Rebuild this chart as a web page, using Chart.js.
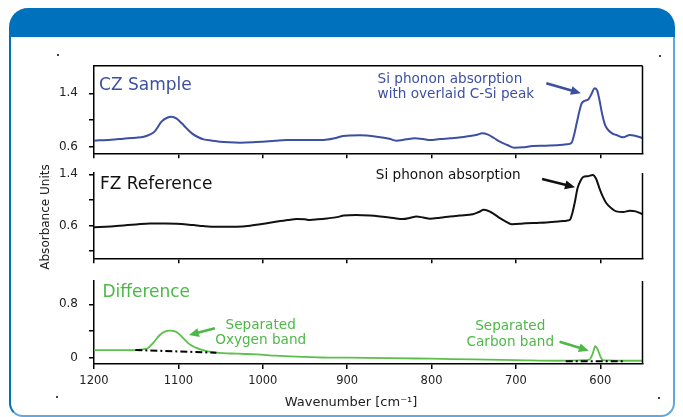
<!DOCTYPE html>
<html>
<head>
<meta charset="utf-8">
<script src="https://cdn.jsdelivr.net/npm/chart.js@4.4.0/dist/chart.umd.min.js"></script>
<style>
  body { margin: 0; width: 683px; height: 417px; overflow: hidden; background: #fff; position: relative;
         font-family: 'DejaVu Sans', Verdana, sans-serif; }
  .box { position: absolute; left: 9px; top: 30px; width: 662px; height: 385px;
         border-left: 2px solid #0071bc; border-right: 2px solid #62a8de; border-bottom: 2px solid #62a8de;
         border-radius: 0 0 14px 14px; }
  .header { position: absolute; left: 9px; top: 8px; width: 666px; height: 29px; background: #0071bc;
            border-radius: 19px 19px 0 0; }
  .dot { position: absolute; width: 2px; height: 2px; background: #444; }
  canvas { position: absolute; left: 0; }
  .ytitle { position: absolute; left: -35px; top: 209px; width: 160px; line-height: 16px; text-align: center;
            font-size: 12px; color: #222; transform: rotate(-90deg); }
  .xtitle { position: absolute; left: 251px; top: 394px; width: 200px; line-height: 16px; text-align: center;
            font-size: 13px; color: #222; }
</style>
</head>
<body>
<div class="box"></div>
<div class="header"></div>
<div class="dot" style="left:57px;top:54px"></div>
<div class="dot" style="left:659px;top:55px"></div>
<div class="dot" style="left:56px;top:396px"></div>
<div class="dot" style="left:658px;top:397px"></div>
<canvas id="czChart" width="683" height="125" style="top:40px"></canvas>
<canvas id="fzChart" width="683" height="100" style="top:165px"></canvas>
<canvas id="diffChart" width="683" height="152" style="top:265px"></canvas>
<div class="ytitle">Absorbance Units</div>
<div class="xtitle">Wavenumber [cm⁻¹]</div>
<script>
// ===== DATA ===== //
const wnTicks = [600, 700, 800, 900, 1000, 1100, 1200];

// CZ sample spectrum
const czWn  = [1200, 1180, 1165, 1150, 1141, 1134, 1128, 1120, 1114, 1108, 1102, 1096, 1090, 1084, 1077, 1070,
               1060, 1051, 1040, 1027, 1012, 1000, 985, 972, 950, 928, 915, 905, 885, 865, 850, 842, 830, 820,
               810, 802, 790, 778, 765, 755, 746, 740, 733, 726, 719, 710, 702, 692, 680, 665, 648, 640, 634,
               631, 628, 625, 622, 618, 614, 610, 607, 604, 601, 598, 595, 592, 586, 581, 573, 565, 558, 550];
const czAbs = [0.69, 0.705, 0.72, 0.735, 0.75, 0.78, 0.83, 0.975, 1.03, 1.05, 1.02, 0.95, 0.87, 0.80, 0.745, 0.71,
               0.69, 0.675, 0.665, 0.66, 0.665, 0.675, 0.69, 0.70, 0.70, 0.70, 0.725, 0.76, 0.77, 0.75, 0.72, 0.69, 0.71, 0.725,
               0.715, 0.70, 0.715, 0.725, 0.74, 0.76, 0.78, 0.80, 0.78, 0.73, 0.675, 0.625, 0.585, 0.59, 0.61, 0.615, 0.625, 0.635, 0.66,
               0.78, 0.95, 1.12, 1.25, 1.29, 1.31, 1.40, 1.475, 1.45, 1.30, 1.10, 0.95, 0.87, 0.80, 0.775, 0.74, 0.775, 0.76, 0.73];
const czYTicks  = [0.6, 1.0, 1.4];
const czYLabels = ['0.6', '', '1.4'];

// FZ reference spectrum
const fzWn  = [1200, 1180, 1165, 1150, 1134, 1115, 1102, 1090, 1082, 1070, 1055, 1031, 1015, 1003, 990, 983,
               970, 960, 950, 944, 935, 924, 912, 904, 889, 873, 861, 845, 834, 825, 818, 810, 802, 790,
               778, 767, 751, 744, 738, 730, 719, 712, 705, 695, 688, 675, 664, 650, 640, 636, 633, 630,
               627, 623, 620, 615, 609, 605, 601, 597, 593, 587, 581, 573, 565, 558, 550];
const fzAbs = [0.57, 0.585, 0.60, 0.615, 0.63, 0.63, 0.625, 0.615, 0.605, 0.59, 0.58, 0.58, 0.595, 0.62, 0.645, 0.66,
               0.685, 0.70, 0.695, 0.685, 0.695, 0.71, 0.73, 0.755, 0.765, 0.755, 0.74, 0.715, 0.70, 0.72, 0.74, 0.725, 0.705, 0.72,
               0.74, 0.755, 0.775, 0.81, 0.845, 0.81, 0.715, 0.66, 0.62, 0.625, 0.635, 0.64, 0.645, 0.66, 0.675, 0.69, 0.80, 0.975,
               1.18, 1.31, 1.36, 1.37, 1.39, 1.33, 1.18, 1.05, 0.95, 0.87, 0.82, 0.81, 0.83, 0.82, 0.775];
const fzYTicks  = [0.2, 0.6, 1.0, 1.4];
const fzYLabels = ['', '0.6', '', '1.4'];

// Difference spectrum
const diffWn  = [1200, 1175, 1153, 1142, 1136, 1130, 1122, 1116, 1110, 1104, 1100, 1094, 1088, 1081, 1074, 1065,
                 1055, 1030, 1007, 985, 960, 935, 917, 900, 850, 800, 750, 700, 650, 625, 617, 613, 609, 606,
                 603, 600, 597, 590, 570, 550];
const diffAbs = [0.115, 0.115, 0.115, 0.125, 0.145, 0.22, 0.34, 0.39, 0.405, 0.395, 0.365, 0.29, 0.215, 0.16, 0.125, 0.095,
                 0.075, 0.06, 0.05, 0.03, 0.015, 0.005, 0.0, 0.0, -0.005, -0.015, -0.025, -0.035, -0.045, -0.04, -0.035, -0.03, 0.06, 0.175,
                 0.12, 0.02, -0.035, -0.04, -0.045, -0.045];
const oxyBaseWn  = [1151, 1055];
const oxyBaseAbs = [0.115, 0.075];
const carbBaseWn  = [641, 571];
const carbBaseAbs = [-0.052, -0.052];
const diffYTicks  = [0, 0.4, 0.8];
const diffYLabels = ['0', '', '0.8'];

// ===== COLORS / FONTS ===== //
const BLUE = '#3c4fa3';
const GREEN = '#4db848';
const GREEN_LINE = '#5cbf4a';
const BIG = '17px "DejaVu Sans"';
const SMALL = '13.6px "DejaVu Sans"';

const toPts = (xs, ys) => xs.map((x, i) => ({ x: x, y: ys[i] }));

// ===== PLUGINS ===== //
const framePlugin = {
    id: 'frame',
    afterDraw(chart, args, opts) {
        const { ctx, chartArea: a } = chart;
        ctx.save();
        ctx.strokeStyle = '#000';
        ctx.lineWidth = 1.5;
        ctx.beginPath();
        ctx.moveTo(a.right, a.top);
        ctx.lineTo(a.right, a.bottom);
        if (opts.top) {
            ctx.moveTo(a.left, a.top);
            ctx.lineTo(a.right, a.top);
        }
        ctx.stroke();
        ctx.restore();
    }
};

function makeNotes(texts, arrows) {
    return {
        id: 'notes',
        afterDatasetsDraw(chart) {
            const { ctx } = chart;
            const sx = chart.scales.x, sy = chart.scales.y;
            ctx.save();
            texts.forEach(t => {
                ctx.font = t.font;
                ctx.fillStyle = t.color;
                ctx.textAlign = t.align || 'left';
                ctx.textBaseline = 'middle';
                ctx.fillText(t.text, sx.getPixelForValue(t.wn), sy.getPixelForValue(t.v));
            });
            arrows.forEach(ar => {
                const x0 = sx.getPixelForValue(ar.from[0]), y0 = sy.getPixelForValue(ar.from[1]);
                const x1 = sx.getPixelForValue(ar.to[0]), y1 = sy.getPixelForValue(ar.to[1]);
                const ang = Math.atan2(y1 - y0, x1 - x0);
                const c = Math.cos(ang), s = Math.sin(ang);
                const head = 10, half = 4.5;
                ctx.strokeStyle = ar.color;
                ctx.fillStyle = ar.color;
                ctx.lineWidth = 2.6;
                ctx.beginPath();
                ctx.moveTo(x0, y0);
                ctx.lineTo(x1 - head * 0.8 * c, y1 - head * 0.8 * s);
                ctx.stroke();
                ctx.beginPath();
                ctx.moveTo(x1, y1);
                ctx.lineTo(x1 - head * c + half * s, y1 - head * s - half * c);
                ctx.lineTo(x1 - head * c - half * s, y1 - head * s + half * c);
                ctx.closePath();
                ctx.fill();
            });
            ctx.restore();
        }
    };
}

// ===== CHARTS ===== //
function makePanel(id, cfg) {
    return new Chart(document.getElementById(id), {
        type: 'line',
        data: { datasets: cfg.datasets },
        options: {
            responsive: false,
            animation: false,
            devicePixelRatio: 1,
            layout: { padding: { top: cfg.padTop, right: 40.5, left: 0, bottom: 0 } },
            elements: { point: { radius: 0 }, line: { cubicInterpolationMode: 'monotone', borderJoinStyle: 'round' } },
            plugins: { legend: { display: false }, tooltip: { enabled: false }, frame: { top: cfg.boxTop } },
            scales: {
                x: {
                    type: 'linear', reverse: true, min: 550, max: 1200,
                    afterBuildTicks: s => { s.ticks = wnTicks.map(v => ({ value: v })); },
                    afterFit: s => { s.height = cfg.xHeight; s.paddingLeft = 0; s.paddingRight = 0; },
                    ticks: {
                        display: cfg.xLabels, autoSkip: false, maxRotation: 0, padding: 5.5,
                        color: '#222', font: { family: 'DejaVu Sans', size: 11.5 },
                        callback: v => String(v)
                    },
                    grid: { drawOnChartArea: false, drawTicks: true, tickLength: 5, color: '#000', lineWidth: 1.5 },
                    border: { display: true, color: '#000', width: 1.5 }
                },
                y: {
                    min: cfg.yMin, max: cfg.yMax,
                    afterBuildTicks: s => { s.ticks = cfg.yTicks.map(v => ({ value: v })); },
                    afterFit: s => { s.width = 94; s.paddingTop = 0; s.paddingBottom = 0; },
                    ticks: {
                        padding: 11, color: '#222', font: { family: 'DejaVu Sans', size: 12 },
                        callback: (v, i) => cfg.yLabels[i]
                    },
                    grid: { drawOnChartArea: false, drawTicks: true, tickLength: 5, color: '#000', lineWidth: 1.5 },
                    border: { display: true, color: '#000', width: 1.5 }
                }
            }
        },
        plugins: [framePlugin, makeNotes(cfg.texts, cfg.arrows)]
    });
}

makePanel('czChart', {
    padTop: 25.7, xHeight: 11.7, boxTop: true, xLabels: false,
    yMin: 0.501, yMax: 1.813, yTicks: czYTicks, yLabels: czYLabels,
    datasets: [{ data: toPts(czWn, czAbs), borderColor: BLUE, borderWidth: 2 }],
    texts: [
        { text: 'CZ Sample', wn: 1194, v: 1.52, color: BLUE, font: BIG },
        { text: 'Si phonon absorption', wn: 864, v: 1.61, color: BLUE, font: SMALL },
        { text: 'with overlaid C-Si peak', wn: 864, v: 1.375, color: BLUE, font: SMALL }
    ],
    arrows: [{ from: [664, 1.55], to: [623, 1.40], color: BLUE }]
});

makePanel('fzChart', {
    padTop: 8, xHeight: 6.7, boxTop: false, xLabels: false,
    yMin: 0.086, yMax: 1.42, yTicks: fzYTicks, yLabels: fzYLabels,
    datasets: [{ data: toPts(fzWn, fzAbs), borderColor: '#111', borderWidth: 2 }],
    texts: [
        { text: 'FZ Reference', wn: 1193, v: 1.233, color: '#111', font: BIG },
        { text: 'Si phonon absorption', wn: 866, v: 1.388, color: '#111', font: SMALL }
    ],
    arrows: [{ from: [669, 1.326], to: [630, 1.197], color: '#111' }]
});

makePanel('diffChart', {
    padTop: 16, xHeight: 53, boxTop: false, xLabels: true,
    yMin: -0.094, yMax: 1.149, yTicks: diffYTicks, yLabels: diffYLabels,
    datasets: [
        { data: toPts(oxyBaseWn, oxyBaseAbs), borderColor: '#000', borderWidth: 2, borderDash: [7, 3, 2, 3], order: 0 },
        { data: toPts(carbBaseWn, carbBaseAbs), borderColor: '#000', borderWidth: 2, borderDash: [7, 3, 2, 3], order: 0 },
        { data: toPts(diffWn, diffAbs), borderColor: GREEN_LINE, borderWidth: 1.8, order: 1 }
    ],
    texts: [
        { text: 'Difference', wn: 1190, v: 0.975, color: GREEN, font: BIG },
        { text: 'Separated', wn: 1002.5, v: 0.49, color: GREEN, font: SMALL, align: 'center' },
        { text: 'Oxygen band', wn: 1002.5, v: 0.255, color: GREEN, font: SMALL, align: 'center' },
        { text: 'Separated', wn: 706.7, v: 0.475, color: GREEN, font: SMALL, align: 'center' },
        { text: 'Carbon band', wn: 706.7, v: 0.235, color: GREEN, font: SMALL, align: 'center' }
    ],
    arrows: [
        { from: [1056.7, 0.44], to: [1087.5, 0.34], color: GREEN },
        { from: [648.3, 0.24], to: [613.6, 0.105], color: GREEN }
    ]
});
</script>
</body>
</html>
